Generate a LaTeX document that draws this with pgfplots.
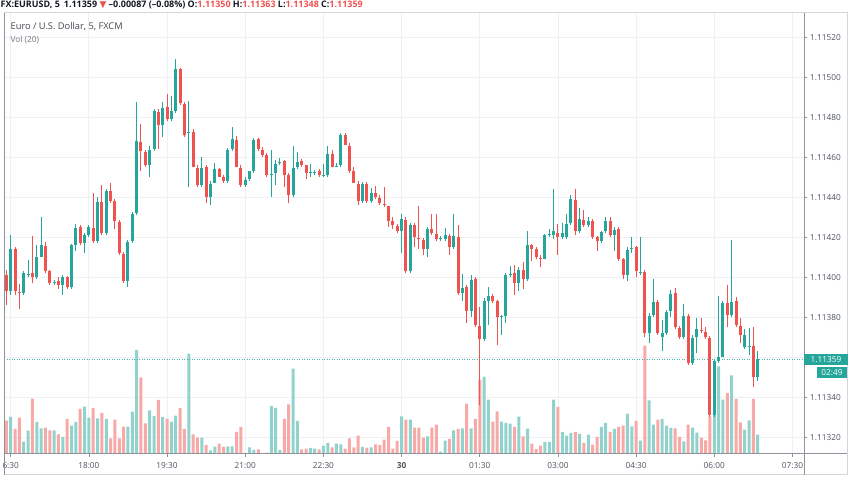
\documentclass[border=0pt]{standalone}
\usepackage{fontspec}
\setmainfont{Open Sans}
\newfontfamily\symfont{DejaVu Sans}
\usepackage{pgfplots}
\usepackage{pgfplotstable}
\pgfplotsset{compat=1.18}

\definecolor{upc}{HTML}{26A69A}
\definecolor{dnc}{HTML}{EF5350}
\definecolor{upvol}{HTML}{92D2CC}
\definecolor{dnvol}{HTML}{F7A9A7}
\definecolor{gridc}{HTML}{EDF0F5}
\definecolor{axisc}{HTML}{8F929B}
\definecolor{framec}{HTML}{D3D6DD}
\definecolor{labelc}{HTML}{4C525E}
\definecolor{headc}{HTML}{131722}

\pgfplotsset{
  pane/.style={scale only axis, width=800bp, height=441bp,
    at={(4bp,31bp)}, anchor=south west,
    xmin=-1.543, xmax=182.66},
  price/.style={ymin=1.1131175, ymax=1.1153225},
}

% EURUSD 5 min, index 0 = 16:30; v: volume (relative)
% rising candles
\pgfplotstableread{
i o h l c v
0 1.11393 1.11421 1.11391 1.11414 37.0
3 1.11392 1.11403 1.11391 1.11402 12.3
4 1.11401 1.11409 1.11400 1.11402 23.3
6 1.11400 1.11416 1.11399 1.11410 32.0
7 1.11410 1.11430 1.11410 1.11416 25.7
10 1.11397 1.11399 1.11396 1.11398 23.7
12 1.11396 1.11401 1.11391 1.11400 17.0
14 1.11395 1.11417 1.11394 1.11416 28.3
15 1.11416 1.11427 1.11413 1.11425 32.0
17 1.11417 1.11422 1.11412 1.11421 47.3
18 1.11421 1.11426 1.11420 1.11425 36.3
20 1.11418 1.11440 1.11417 1.11438 35.7
22 1.11422 1.11444 1.11421 1.11443 35.0
27 1.11398 1.11419 1.11395 1.11418 27.3
28 1.11418 1.11433 1.11417 1.11432 42.3
29 1.11432 1.11488 1.11431 1.11468 104.0
32 1.11456 1.11466 1.11450 1.11464 43.7
33 1.11464 1.11484 1.11463 1.11483 38.0
35 1.11476 1.11488 1.11470 1.11485 37.0
37 1.11479 1.11491 1.11478 1.11483 32.3
38 1.11483 1.11509 1.11482 1.11504 38.3
41 1.11472 1.11488 1.11445 1.11473 100.3
44 1.11446 1.11460 1.11445 1.11455 16.3
46 1.11440 1.11448 1.11436 1.11447 3.7
47 1.11447 1.11457 1.11447 1.11454 7.3
50 1.11448 1.11465 1.11447 1.11464 7.7
51 1.11464 1.11475 1.11463 1.11469 7.7
54 1.11446 1.11450 1.11445 1.11449 1.0
55 1.11449 1.11453 1.11448 1.11453 6.7
56 1.11453 1.11470 1.11452 1.11469 4.0
60 1.11451 1.11464 1.11440 1.11452 48.0
61 1.11452 1.11459 1.11446 1.11457 46.0
62 1.11457 1.11460 1.11456 1.11458 4.0
65 1.11441 1.11466 1.11440 1.11455 85.3
66 1.11455 1.11463 1.11454 1.11458 33.0
69 1.11452 1.11457 1.11450 1.11453 6.0
70 1.11452 1.11454 1.11451 1.11453 5.3
72 1.11451 1.11457 1.11450 1.114515 8.0
73 1.11451 1.11466 1.11450 1.11462 11.0
75 1.11455 1.11457 1.11455 1.11456 10.3
76 1.11456 1.11472 1.11455 1.11471 9.7
81 1.11438 1.11448 1.11437 1.11447 7.0
83 1.11438 1.11445 1.11437 1.11442 6.7
90 1.11423 1.11432 1.11412 1.11429 37.7
92 1.11403 1.11427 1.11402 1.11426 34.3
96 1.11414 1.11425 1.11410 1.11424 17.7
99 1.11419 1.11421 1.11418 1.11420 2.3
100 1.11419 1.11425 1.11418 1.11421 13.3
102 1.11415 1.11432 1.11414 1.11421 23.7
104 1.11392 1.11402 1.11388 1.11395 25.7
106 1.11383 1.11401 1.11380 1.11399 25.7
109 1.11369 1.11390 1.11368 1.11388 77.0
110 1.11388 1.11395 1.11376 1.11391 54.3
113 1.11380 1.11381 1.11371 1.113805 32.3
114 1.113805 1.11402 1.11377 1.11401 31.0
115 1.11401 1.11406 1.11400 1.11402 30.3
117 1.11397 1.11405 1.11393 1.11404 37.3
119 1.11399 1.11423 1.11398 1.11416 25.3
123 1.11409 1.11422 1.11409 1.11421 12.0
124 1.11421 1.11424 1.11420 1.11422 12.0
125 1.11421 1.11444 1.11419 1.11423 54.3
127 1.11420 1.11427 1.11419 1.11422 22.0
128 1.11420 1.11432 1.11419 1.11427 18.3
129 1.11427 1.11441 1.11426 1.11439 21.0
131 1.11423 1.11435 1.11422 1.11429 20.0
133 1.11426 1.11430 1.11425 1.11428 19.3
136 1.11418 1.11423 1.11417 1.11423 27.0
137 1.11423 1.11430 1.11422 1.11428 31.0
139 1.11421 1.11425 1.11413 1.11424 25.0
142 1.11401 1.11415 1.11398 1.11414 40.3
143 1.11414 1.11420 1.11412 1.11415 27.7
145 1.11402 1.11420 1.11401 1.11403 13.3
147 1.11372 1.11382 1.11367 1.11381 53.7
148 1.11381 1.11399 1.11380 1.11388 29.3
150 1.11370 1.11379 1.11363 1.11372 35.0
151 1.11372 1.11384 1.11371 1.11383 28.3
152 1.11383 1.11394 1.11380 1.11392 26.0
155 1.11370 1.11387 1.11369 1.11381 12.7
157 1.11357 1.11371 1.11356 1.11370 26.3
158 1.11370 1.11380 1.11362 1.11374 21.3
162 1.11331 1.11359 1.11330 1.11358 47.7
163 1.11358 1.11391 1.11357 1.11360 87.7
164 1.11360 1.11388 1.11360 1.11387 54.3
166 1.11381 1.11419 1.11380 1.11388 78.7
169 1.11365 1.11374 1.11364 1.11371 24.3
170 1.11365 1.11375 1.11361 1.11366 33.7
172 1.11350 1.11363 1.11348 1.11359 19.3
}\upcandles

% falling candles
\pgfplotstableread{
i o h l c v
-1 1.11401 1.11404 1.11386 1.11393 33.3
1 1.11414 1.11415 1.11391 1.11393 25.0
2 1.11393 1.11397 1.11384 1.11392 36.3
5 1.11402 1.11421 1.11397 1.11400 55.3
8 1.11416 1.11418 1.11402 1.11403 26.3
9 1.11403 1.11404 1.11396 1.11397 23.7
11 1.11398 1.11400 1.11394 1.11396 19.7
13 1.11400 1.11401 1.11394 1.11395 35.0
16 1.11425 1.11426 1.11416 1.11417 45.0
19 1.11425 1.11442 1.11417 1.11418 46.0
21 1.11438 1.11446 1.11421 1.11422 41.0
23 1.11443 1.11447 1.11437 1.11438 15.7
24 1.11438 1.11439 1.11424 1.11428 34.3
25 1.11428 1.11429 1.11411 1.11412 15.7
26 1.11412 1.11413 1.11397 1.11398 27.3
30 1.11468 1.11477 1.11453 1.11463 76.7
31 1.11463 1.11464 1.11455 1.11456 30.7
34 1.11483 1.11484 1.11464 1.11476 54.0
36 1.11485 1.11492 1.11478 1.11479 35.3
39 1.11504 1.11505 1.11486 1.11487 46.0
40 1.11487 1.11488 1.11470 1.11471 25.0
42 1.11473 1.11474 1.11455 1.11455 19.7
43 1.11455 1.11456 1.11445 1.11446 16.3
45 1.11455 1.11456 1.11437 1.11440 9.0
48 1.11454 1.11455 1.11450 1.11450 10.3
49 1.11450 1.11451 1.11447 1.11448 7.0
52 1.11469 1.11471 1.11455 1.11455 22.0
53 1.11455 1.11456 1.11445 1.11446 27.0
57 1.11469 1.11470 1.11463 1.11464 4.7
58 1.11464 1.11465 1.11460 1.11461 0.7
59 1.11461 1.11462 1.11450 1.11451 1.3
63 1.11458 1.11459 1.11445 1.11451 35.0
64 1.11451 1.11452 1.11437 1.11441 49.7
67 1.11458 1.11459 1.11455 1.11456 4.7
68 1.11456 1.11456 1.11449 1.11452 5.3
71 1.11453 1.11454 1.11450 1.11451 4.7
74 1.11462 1.11464 1.11455 1.11455 6.7
77 1.11471 1.11472 1.11466 1.11466 5.3
78 1.11466 1.11467 1.11452 1.11453 15.7
79 1.11453 1.11455 1.11447 1.11447 6.7
80 1.11447 1.11448 1.11436 1.11438 18.3
82 1.11447 1.11448 1.11437 1.11438 6.3
84 1.11442 1.11446 1.11439 1.11440 9.7
85 1.11440 1.11441 1.11436 1.11437 9.0
86 1.11437 1.11445 1.11435 1.11436 14.3
87 1.11436 1.11436 1.11425 1.11428 27.0
88 1.11428 1.11430 1.11424 1.11426 5.3
89 1.11426 1.11427 1.11422 1.11423 13.0
91 1.11429 1.11430 1.11402 1.11403 34.3
93 1.11426 1.11427 1.11415 1.11420 26.3
94 1.11420 1.11436 1.11414 1.11419 26.3
95 1.11419 1.11420 1.11411 1.11414 16.3
97 1.11424 1.11432 1.11421 1.11422 26.3
98 1.11422 1.11432 1.11418 1.11419 29.3
101 1.11421 1.11422 1.11411 1.11415 15.0
103 1.11420 1.11426 1.11391 1.11392 25.0
105 1.11395 1.11396 1.11377 1.11383 50.3
107 1.11399 1.11400 1.11375 1.11376 35.0
108 1.11376 1.11385 1.11336 1.11369 74.3
111 1.11391 1.11392 1.11387 1.11388 32.3
112 1.11388 1.11389 1.11366 1.11380 42.7
116 1.11402 1.11406 1.11391 1.11397 27.0
118 1.11404 1.11408 1.11394 1.11399 17.7
120 1.11416 1.11417 1.11408 1.11414 10.3
121 1.11414 1.11415 1.11409 1.11410 5.0
122 1.11410 1.11411 1.11405 1.11409 8.3
126 1.11422 1.11427 1.11411 1.11420 47.0
130 1.11439 1.11444 1.11421 1.11423 22.0
132 1.11429 1.11434 1.11425 1.11426 11.0
134 1.11428 1.11429 1.11419 1.11420 9.3
135 1.11420 1.11421 1.11413 1.11418 17.0
138 1.11428 1.11430 1.11420 1.11421 22.0
140 1.11424 1.11425 1.11408 1.11409 27.0
141 1.11409 1.11410 1.11399 1.11401 28.3
144 1.11415 1.11416 1.11400 1.11403 33.0
146 1.11403 1.11404 1.11370 1.11372 108.3
149 1.11388 1.11389 1.11371 1.11372 34.3
153 1.11392 1.11395 1.11374 1.11375 25.7
154 1.11375 1.11376 1.11369 1.11370 17.0
156 1.11381 1.11382 1.11356 1.11357 29.3
159 1.11374 1.11380 1.11372 1.11373 16.3
160 1.11373 1.11375 1.11369 1.11370 13.7
161 1.11370 1.11371 1.11330 1.11331 37.7
165 1.11387 1.11396 1.11375 1.11381 61.0
167 1.11388 1.11390 1.11375 1.11376 55.0
168 1.11376 1.11380 1.11367 1.11371 31.7
171 1.11366 1.11375 1.11345 1.11350 55.0
}\dncandles

\begin{document}
\begin{tikzpicture}[x=1bp,y=1bp]
\useasboundingbox (0,0) rectangle (852,485);

% grid, ticks, tick labels (1.11360 sits under the last-price tag)
\begin{axis}[pane, price,
  axis line style={draw=none},
  grid=major, major grid style={gridc, line width=0.8bp},
  tick align=outside, major tick length=3bp,
  tick style={axisc, line width=0.6bp},
  xtick pos=left, ytick pos=right,
  xticklabel pos=left, yticklabel pos=right,
  xtick={0,18,...,180},
  xticklabels={6:30,18:00,19:30,21:00,22:30,\textbf{30},01:30,03:00,04:30,06:00,07:30},
  ytick={1.1132,1.1134,1.1136,1.1138,1.114,1.1142,1.1144,1.1146,1.1148,1.115,1.1152},
  yticklabels={1.11320,1.11340,{},1.11380,1.11400,1.11420,1.11440,1.11460,1.11480,1.11500,1.11520},
  tick label style={font=\fontsize{8.3}{9}\selectfont, text=labelc, inner sep=0pt},
  xticklabel style={anchor=north}, xticklabel shift=5bp,
  yticklabel style={anchor=west}, yticklabel shift=3bp,
]
\end{axis}

% volume
\begin{axis}[pane, hide axis, ymin=0, ymax=441]
\addplot[ybar, bar width=3bp, bar shift=0pt, fill=upvol, draw=none]
  table[x=i, y=v] {\upcandles};
\addplot[ybar, bar width=3bp, bar shift=0pt, fill=dnvol, draw=none]
  table[x=i, y=v] {\dncandles};
\end{axis}

% candles: wicks, then bodies
\begin{axis}[pane, price, hide axis]
\draw[upc!85, dash pattern=on 1bp off 1.5bp, line width=0.6bp]
  (axis cs:-1.543,1.11359) -- (axis cs:182.66,1.11359);
\addplot[draw=none, mark=none,
  error bars/.cd, y dir=plus, y explicit, error mark=none,
  error bar style={draw=upc, line width=1bp}]
  table[x=i, y=l, y error expr=\thisrow{h}-\thisrow{l}] {\upcandles};
\addplot[draw=none, mark=none,
  error bars/.cd, y dir=plus, y explicit, error mark=none,
  error bar style={draw=dnc, line width=1bp}]
  table[x=i, y=l, y error expr=\thisrow{h}-\thisrow{l}] {\dncandles};
\addplot[draw=none, mark=none,
  error bars/.cd, y dir=plus, y explicit, error mark=none,
  error bar style={draw=upc, line width=3bp}]
  table[x=i, y=o, y error expr=\thisrow{c}-\thisrow{o}] {\upcandles};
\addplot[draw=none, mark=none,
  error bars/.cd, y dir=plus, y explicit, error mark=none,
  error bar style={draw=dnc, line width=3bp}]
  table[x=i, y=c, y error expr=\thisrow{o}-\thisrow{c}] {\dncandles};
\end{axis}

% frame
\draw[framec, line width=1bp] (4,10) rectangle (847,472);
\draw[axisc, line width=1bp] (4,10) -- (4,472);
\draw[axisc, line width=1bp] (4,31) -- (847,31);
\draw[axisc, line width=1bp] (804,10) -- (804,472);

% last price tags
\node[fill=upc, text=white, inner sep=0pt, minimum width=44bp, minimum height=11.5bp,
  font=\fontsize{8.3}{9}\selectfont] at (826,125.7) {1.11359};
\node[fill=upc, text=white, inner sep=0pt, minimum width=30bp, minimum height=11bp,
  font=\fontsize{8.3}{9}\selectfont] at (832,112.5) {02:49};

% header and legend
\node[anchor=west, inner sep=0pt, text=headc, font=\fontsize{9}{10}\selectfont\bfseries]
  at (0.5,480) {FX:EURUSD, 5\hspace{4bp}1.11359 {\symfont\color{dnc}▼} --0.00087 (--0.08\%)
  O:{\color{dnc}1.11350} H:{\color{dnc}1.11363} L:{\color{dnc}1.11348} C:{\color{dnc}1.11359}};
\node[anchor=west, inner sep=0pt, text=headc!80, font=\fontsize{9.3}{10}\selectfont]
  at (10.5,458) {Euro / U.S. Dollar, 5, FXCM};
\node[anchor=west, inner sep=0pt, text=labelc!80, font=\fontsize{8.3}{9}\selectfont]
  at (10.5,445) {Vol (20)};
\end{tikzpicture}
\end{document}
